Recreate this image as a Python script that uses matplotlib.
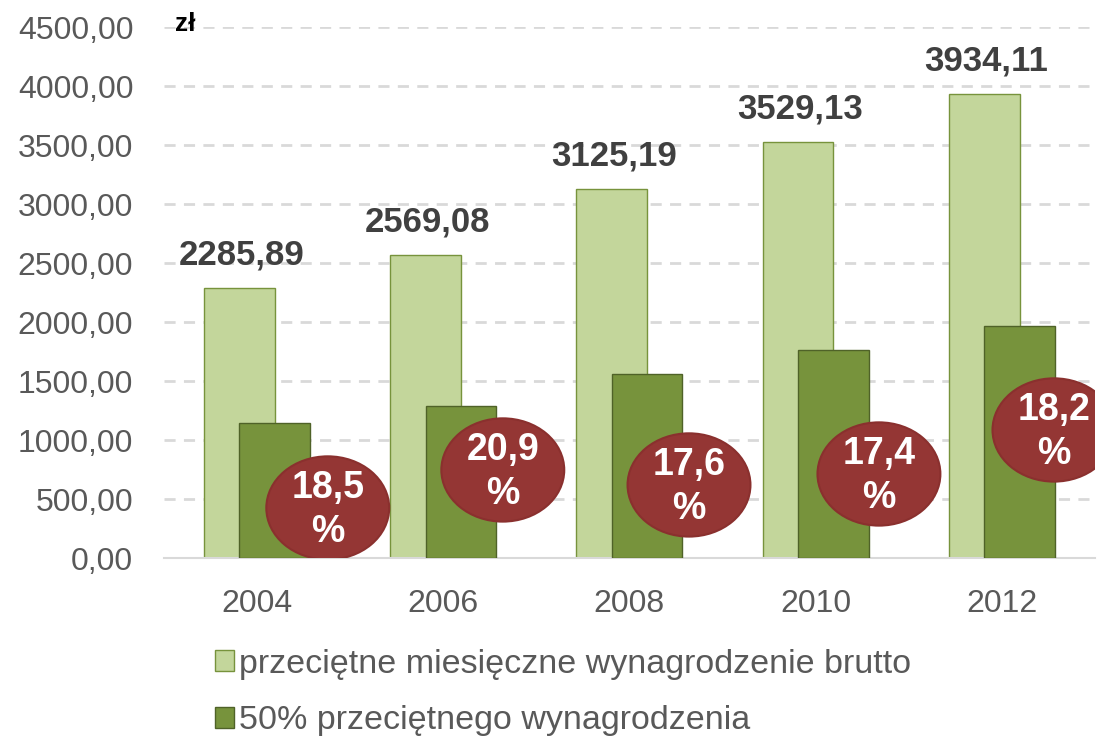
import matplotlib
matplotlib.use('Agg')
import matplotlib.pyplot as plt
from matplotlib.patches import Ellipse, Patch
import numpy as np

years = ['2004', '2006', '2008', '2010', '2012']
avg_wage = [2285.89, 2569.08, 3125.19, 3529.13, 3934.11]
half_wage = [1142.95, 1284.54, 1562.60, 1764.57, 1967.06]
pct_labels = ['18,5', '20,9', '17,6', '17,4', '18,2']
# bubble centres (x offset from category, y in zł)
bubble_dx = [0.38, 0.32, 0.32, 0.34, 0.28]
bubble_y = [424, 746, 619, 712, 1085]

plt.rcParams['font.family'] = ['Liberation Sans', 'DejaVu Sans']

fig = plt.figure(figsize=(11.15, 7.44), dpi=100, facecolor='w')
ax = fig.add_axes([0.147, 0.25, 0.835, 0.7137])

x = np.arange(len(years))
w = 0.38
ax.bar(x - 0.095, avg_wage, width=w, color='#C3D69B', edgecolor='#77933C', linewidth=1, zorder=2)
ax.bar(x + 0.095, half_wage, width=w, color='#77933C', edgecolor='#4F6228', linewidth=1, zorder=3)

for i in range(len(years)):
    ax.text(x[i] - 0.085, avg_wage[i] + 140, f'{avg_wage[i]:.2f}'.replace('.', ','),
            ha='center', va='bottom', fontsize=25, fontweight='bold', color='#404040', zorder=5)
    ax.add_patch(Ellipse((x[i] + bubble_dx[i], bubble_y[i]), 0.66, 875,
                         facecolor='#943634', edgecolor='#8A302E', linewidth=1.5, zorder=6))
    ax.text(x[i] + bubble_dx[i], bubble_y[i] - 15, pct_labels[i] + '\n%', ha='center', va='center',
            fontsize=27, fontweight='bold', color='white', linespacing=1.3, zorder=7)

ax.set_xlim(-0.5, 4.5)
ax.set_ylim(0, 4500)
ax.set_yticks(np.arange(0, 4501, 500))
ax.set_yticklabels([f'{v:.2f}'.replace('.', ',') for v in np.arange(0, 4501, 500)])
ax.set_xticks(x)
ax.set_xticklabels(years)
ax.tick_params(axis='both', length=0, labelsize=23, labelcolor='#595959')
ax.tick_params(axis='y', pad=22)
ax.tick_params(axis='x', pad=22)

ax.yaxis.grid(True, linestyle=(0, (4, 3)), color='#D9D9D9', linewidth=2, zorder=0)
ax.set_axisbelow(True)
for s in ['left', 'right', 'top']:
    ax.spines[s].set_visible(False)
ax.spines['bottom'].set_color('#D9D9D9')
ax.spines['bottom'].set_linewidth(1.5)

fig.text(0.157, 0.968, 'zł', fontsize=19, fontweight='bold', color='black', ha='left', va='center')

handles = [Patch(facecolor='#C3D69B', edgecolor='#77933C'),
           Patch(facecolor='#77933C', edgecolor='#4F6228')]
fig.legend(handles, ['przeciętne miesięczne wynagrodzenie brutto', '50% przeciętnego wynagrodzenia'],
           loc='upper left', bbox_to_anchor=(0.193, 0.128), ncol=1, frameon=False,
           fontsize=24.5, labelcolor='#595959', handlelength=0.55, handleheight=0.55,
           handletextpad=0.15, labelspacing=0.75, borderaxespad=0, borderpad=0)

plt.savefig('out.png', dpi=100)
plt.close()
